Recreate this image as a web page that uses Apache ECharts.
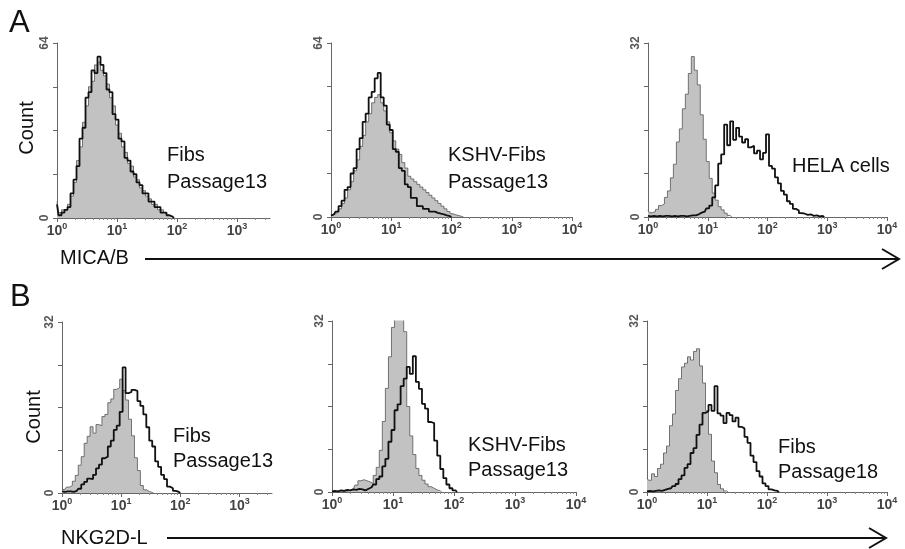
<!DOCTYPE html>
<html>
<head>
<meta charset="utf-8">
<script src="https://cdn.jsdelivr.net/npm/echarts@6/dist/echarts.min.js"></script>
<style>
html, body { margin: 0; padding: 0; background: #fff; }
#chart { width: 905px; height: 549px; }
</style>
</head>
<body>
<div id="chart"></div>
<script>
// bin width of the histograms, in decades (x axis is log10 of fluorescence)
var STEP = 0.05;
var decades = [0, 1, 2, 3, 4];
var FONT = 'Liberation Sans, Arial, sans-serif';

// A: MICA/B   (gray = control, black = stained)
var micaFibs13Ctrl = [6,2,3,3,5, 8,13,21,26,35, 41,48,50,56,57, 54,52,49,44,41, 34,31,26,24,20, 19,15,14,11,10, 8,7,5,5,3, 3,2,1,0.5,0];
var micaFibs13     = [5,1,2,3,4, 9,14,19,29,33, 44,46,54,53,59, 56,53,47,46,38, 36,29,28,22,21, 17,16,13,12,9, 9,6,6,4,4, 2,2,1,0.5,0];
var micaKshv13Ctrl = [0.3,0.8,1.5,3,5, 7,10,13,17,21, 26,30,35,38,42, 44,45,42,39,35, 31,28,25,23,20, 18,15,14,13,12, 11,10,9,8,7, 6,5,4,3,2, 1.2,0.8,0.5,0.2,0];
var micaKshv13     = [0.5,1,2,4,6, 10,11,16,18,25, 29,35,38,44,46, 51,53,44,41,34, 32,25,24,18,17, 12,11,7,7,4, 4,3,3,2,2, 1.5,1.2,1,0.6,0.3, 0];
var micaHelaCtrl   = [1.2,0.8,1,1.4,2.1, 2.4,3.6,4.8,7.2,9.7, 13.8,16.2,19.9,22.6,26.4, 29.5,27,24.3,18.8,14.3, 10.2,7.1,4.4,3.1,1.9, 1.3,0.7,0.3,0];
var micaHela       = [0.2,0.1,0.2,0.1,0.2,0.1,0.2,0.2,0.1,0.2,0.1,0.2,0.2,0.1,0.2,0.3,0.3,
                      0.5,0.8,1,1.6,2.1, 3.6,5.8,9.8,11.5,17, 13.2,17.6,14.2,16.4,14.8, 13.7,14.3,12.8,13.1,11.7,
                      12.2,10.6,11.8,15.2,9.4, 8.9,7.3,6.2,4.8,4.1, 2.9,2.4,1.5,1.2,0.7, 0.6,0.4,0.5,0.2,0.3, 0.1,0.2,0];

// B: NKG2D-L
var nkgFibs13Ctrl  = [0.6,0.7,1.1,1.4,2.2, 3.3,5.2,6.8,9.3,10.6, 12.4,11.2,12.8,12.6,14.3, 14.7,16.9,17.6,19.4,19.7, 21.3,19.2,17.4,13.8,10.7, 6.6,4.2,1.4,0.6,0.3, 0.1,0];
var nkgFibs13      = [0.3,0.2,0.3,0.3,0.2,0.4, 0.8,1.6,2.1,2.7, 2.6,3.4,4.6,5.3,6.5, 6.8,8.7,9.8,11.8,12.6, 15.2,23.5,18.7,18.9,19.3, 19.1,17.2,16.3,14.7,12.3, 9.8,8.7,5.9,4.9,3.4, 2.6,1.2,0.9,0.4,0.2, 0];
var nkgKshv13Ctrl  = [0,0,0,0,0.1,0.2,0.3, 0.6,1.3,2.1,2.3,2.1, 1.9,1.6,3.1,4.6,7.8, 13.2,19.4,25.3,30.8,36, 38,37,30,16,10.5, 7,4.4,3.1,2.2,1.5, 1,0.7,0.4,0.2,0];
var nkgKshv13      = [0.1,0.2,0.1,0.3,0.2,0.4,0.3,0.5,0.4,0.6,0.5,0.3, 0.6,0.9,1.4,2.4,2.9, 4.8,6.2,9.4,11.6,15.3, 16.4,19.8,21.2,23.4,22.1, 25.4,20.6,19.3,16.5,15.6, 13.1,12.9,9.6,6.8,4.3, 2.6,1.4,0.7,0.3,0];
var nkgFibs18Ctrl  = [2.6,2.2,3.4,2.9,4.4, 5.2,7.3,8.6,12.4,14.6, 19,21.2,23.4,24.1,25.3, 24.7,26.3,26.8,23.6,20.4, 15.2,10.8,5.8,3.6,1.4, 0.6,0.2,0];
var nkgFibs18      = [0.1,0.2,0.1,0.2,0.3,0.2, 0.4,0.6,0.7,1.1,1.5, 2.4,3.1,4.5,5.2,7.3, 8.2,10.7,12.6,14.8,15.1, 16.3,15.2,19.8,14.7,14.3, 12.9,14.8,14.4,13.2,13.9, 12.2,11.9,10.3,9.2,6.8, 5.6,3.9,2.9,1.6,1.1, 0.5,0.3,0.2,0];

var panels = [
  {ctrl: micaFibs13Ctrl, stain: micaFibs13, yMax: 64, xMax: 3.55, box: [57, 43, 213, 175]},
  {ctrl: micaKshv13Ctrl, stain: micaKshv13, yMax: 64, xMax: 4, box: [331, 43, 241, 174]},
  {ctrl: micaHelaCtrl, stain: micaHela, yMax: 32, xMax: 4, box: [648, 43, 239, 174]},
  {ctrl: nkgFibs13Ctrl, stain: nkgFibs13, yMax: 32, xMax: 3.55, box: [62, 322, 210, 171]},
  {ctrl: nkgKshv13Ctrl, stain: nkgKshv13, yMax: 32, xMax: 4, box: [332, 321, 244, 171]},
  {ctrl: nkgFibs18Ctrl, stain: nkgFibs18, yMax: 32, xMax: 4, box: [647, 321, 240, 171]}
];

function toBins(vals) {
  return vals.map(function (v, i) { return [+(i * STEP).toFixed(3), v]; });
}

// minor ticks at 2..9 of every decade
var minorTicks = [];
for (var d = 0; d < 4; d++) {
  for (var k = 2; k <= 9; k++) minorTicks.push(d + Math.log10(k));
}

var grid = [], xAxis = [], yAxis = [], series = [];
panels.forEach(function (p, i) {
  grid.push({left: p.box[0], top: p.box[1], width: p.box[2], height: p.box[3], outerBoundsMode: 'none'});
  var major = decades.filter(function (v) { return v <= p.xMax; });
  xAxis.push({
    type: 'value', gridIndex: i, min: 0, max: p.xMax, position: 'bottom',
    axisLine: {show: true, lineStyle: {color: '#666', width: 1}},
    axisTick: {show: true, length: 4, customValues: major, lineStyle: {color: '#666'}},
    splitLine: {show: false},
    axisLabel: {
      customValues: major, margin: 4,
      formatter: function (v) { return '{n|10}{e|' + v + '}'; },
      rich: {
        n: {fontSize: 14, fontWeight: 'bold', fontFamily: FONT, color: '#444', lineHeight: 18},
        e: {fontSize: 9, fontWeight: 'bold', fontFamily: FONT, color: '#444', lineHeight: 10, verticalAlign: 'top'}
      }
    }
  });
  xAxis.push({
    type: 'value', gridIndex: i, min: 0, max: p.xMax, position: 'bottom',
    axisLine: {show: false},
    axisTick: {show: true, length: 2, customValues: minorTicks.filter(function (v) { return v <= p.xMax; }), lineStyle: {color: '#888'}},
    axisLabel: {show: false},
    splitLine: {show: false}
  });
  yAxis.push({
    type: 'value', gridIndex: i, min: 0, max: p.yMax, interval: p.yMax / 4,
    axisLine: {show: true, lineStyle: {color: '#666', width: 1}},
    axisTick: {show: true, length: 4, lineStyle: {color: '#666'}},
    splitLine: {show: false},
    axisLabel: {
      rotate: 90, margin: 6, fontSize: 12, fontWeight: 'bold', fontFamily: FONT, color: '#555',
      formatter: function (v) { return (v === 0 || v === p.yMax) ? String(v) : ''; }
    }
  });
  series.push({
    type: 'line', xAxisIndex: 2 * i, yAxisIndex: i, data: toBins(p.ctrl),
    step: 'middle', symbol: 'none', silent: true, z: 2,
    lineStyle: {color: '#555', width: 0.8},
    areaStyle: {color: '#c2c2c2', opacity: 1}
  });
  series.push({
    type: 'line', xAxisIndex: 2 * i, yAxisIndex: i, data: toBins(p.stain),
    step: 'middle', symbol: 'none', silent: true, z: 3,
    lineStyle: {color: '#111', width: 1.8}
  });
});

function txt(x, y, s, size, extra) {
  var o = {type: 'text', x: x, y: y, silent: true,
    style: {text: s, font: size + 'px ' + FONT, fill: '#111', textVerticalAlign: 'middle'}};
  if (extra) { for (var key in extra) o[key] = extra[key]; }
  return o;
}

var graphic = [
  txt(9, 23, 'A', 31),
  txt(10, 297, 'B', 31),
  txt(27, 128, 'Count', 20, {rotation: Math.PI / 2}),
  txt(34, 417, 'Count', 20, {rotation: Math.PI / 2}),
  txt(167, 155, 'Fibs', 20), txt(167, 182, 'Passage13', 20),
  txt(448, 155, 'KSHV-Fibs', 20), txt(448, 182, 'Passage13', 20),
  txt(792, 166, 'HELA cells', 20),
  txt(173, 436, 'Fibs', 20), txt(173, 461, 'Passage13', 20),
  txt(468, 445, 'KSHV-Fibs', 20), txt(468, 470, 'Passage13', 20),
  txt(778, 447, 'Fibs', 20), txt(778, 472, 'Passage18', 20),
  txt(60, 258, 'MICA/B', 20),
  txt(61, 538, 'NKG2D-L', 20),
  {type: 'line', silent: true, shape: {x1: 145, y1: 259, x2: 899, y2: 259}, style: {stroke: '#111', lineWidth: 2}},
  {type: 'polyline', silent: true, shape: {points: [[882, 249], [899, 259], [882, 269]]}, style: {stroke: '#111', lineWidth: 2, fill: null}},
  {type: 'line', silent: true, shape: {x1: 167, y1: 538, x2: 886, y2: 538}, style: {stroke: '#111', lineWidth: 2}},
  {type: 'polyline', silent: true, shape: {points: [[869, 528], [886, 538], [869, 548]]}, style: {stroke: '#111', lineWidth: 2, fill: null}}
];
// rotated texts are centred on their own position
graphic.forEach(function (g) {
  if (g.rotation) { g.style.textAlign = 'center'; g.originX = 0; g.originY = 0; }
});

var myChart = echarts.init(document.getElementById('chart'));
myChart.setOption({
  animation: false,
  grid: grid,
  xAxis: xAxis,
  yAxis: yAxis,
  series: series,
  graphic: graphic
});
</script>
</body>
</html>
